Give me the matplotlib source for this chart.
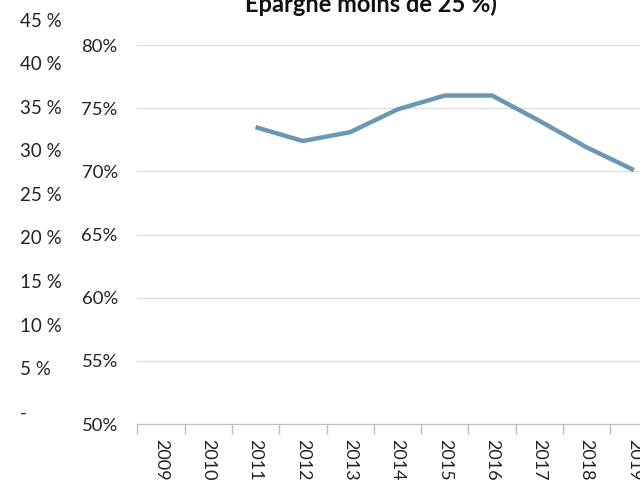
import matplotlib.pyplot as plt
import numpy as np

plt.rcParams['font.family'] = ['Lato', 'DejaVu Sans']

# part des ménages - série tracée
annees = ["2009", "2010", "2011", "2012", "2013", "2014", "2015", "2016", "2017", "2018", "2019"]
valeurs = [np.nan, np.nan, 73.5, 72.4, 73.1, 74.9, 76.0, 76.0, 74.0, 71.9, 70.1]
ticks_droite = [50, 55, 60, 65, 70, 75, 80]
ticks_gauche = [0, 5, 10, 15, 20, 25, 30, 35, 40, 45]

W, H = 640, 483
fig = plt.figure(figsize=(6.4, 4.83), dpi=100)

# axe principal (déborde à droite)
x0, x1 = 137.3, 137.3 + 11 * 47.3
y_bas, y_haut = 424, 45
ax = fig.add_axes([x0 / W, 1 - y_bas / H, (x1 - x0) / W, (y_bas - y_haut) / H])
x = np.arange(len(annees))
ax.plot(x, valeurs, color='#6b97b4', lw=3.2, solid_capstyle='butt')
ax.set_xlim(-0.5, len(annees) - 0.5)
ax.set_ylim(50, 80)
ax.set_yticks(ticks_droite)
ax.set_yticklabels([f"{v}%" for v in ticks_droite], fontsize=13.3, color='#222222')
ax.tick_params(axis='y', length=0, pad=14)
ax.yaxis.grid(True, color='#dcdce4', lw=1)
ax.set_axisbelow(True)
ax.set_xticks(x)
ax.set_xticklabels(annees, rotation=-90, fontsize=13, color='#222222')
ax.set_xticks(np.arange(len(annees) + 1) - 0.5, minor=True)
ax.tick_params(axis='x', which='major', length=0, pad=11)
ax.tick_params(axis='x', which='minor', length=7, color='#bfbfbf', width=1)
for s in ['top', 'right', 'left']:
    ax.spines[s].set_visible(False)
ax.spines['bottom'].set_color('#bfbfbf')

# axe secondaire à gauche
g_bas, g_haut = 411.5, 20
ax2 = fig.add_axes([20 / W, 1 - g_bas / H, 0.0001, (g_bas - g_haut) / H])
ax2.set_ylim(0, 45)
ax2.set_yticks(ticks_gauche)
ax2.set_yticklabels(["-" if v == 0 else f"{v} %" for v in ticks_gauche], fontsize=13.5, color='#222222')
ax2.yaxis.tick_right()
ax2.tick_params(axis='y', length=0, pad=0)
ax2.set_xticks([])
for s in ax2.spines.values():
    s.set_visible(False)
ax2.patch.set_alpha(0)

fig.text(245 / W, 1 - 12 / H, "Epargne moins de 25 %)", fontsize=17, fontweight='bold',
         ha='left', va='baseline', color='#111111')

fig.savefig("out.png", dpi=100)
